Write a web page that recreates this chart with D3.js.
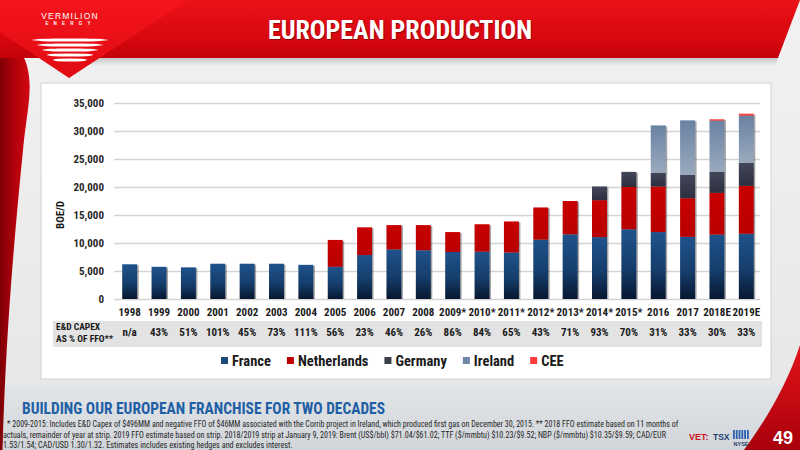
<!DOCTYPE html>
<html>
<head>
<meta charset="utf-8">
<script src="https://cdn.jsdelivr.net/npm/d3@7"></script>
<style>
  html, body { margin: 0; padding: 0; background: #ececec; }
  svg { display: block; }
  text { font-family: "Liberation Sans Narrow", "Arial Narrow", "Roboto Condensed", "Liberation Sans", sans-serif; }
</style>
</head>
<body>
<div id="europeanProduction"></div>
<script>
// values (BOE/D)
const years = ["1998", "1999", "2000", "2001", "2002", "2003", "2004", "2005", "2006", "2007", "2008",
  "2009*", "2010*", "2011*", "2012*", "2013*", "2014*", "2015*", "2016", "2017", "2018E", "2019E"];
const france = [6200, 5750, 5650, 6300, 6300, 6300, 6100, 5750, 7850, 8850, 8700,
  8400, 8450, 8300, 10600, 11550, 11050, 12450, 11950, 11100, 11500, 11650];
const netherlands = [0, 0, 0, 0, 0, 0, 0, 4800, 4950, 4350, 4500,
  3550, 4900, 5550, 5750, 5950, 6600, 7550, 8150, 6900, 7450, 8550];
const germany = [0, 0, 0, 0, 0, 0, 0, 0, 0, 0, 0,
  0, 0, 0, 0, 0, 2450, 2700, 2450, 4150, 3750, 4100];
const ireland = [0, 0, 0, 0, 0, 0, 0, 0, 0, 0, 0,
  0, 0, 0, 0, 0, 0, 0, 8450, 9750, 9150, 8450];
const cee = [0, 0, 0, 0, 0, 0, 0, 0, 0, 0, 0,
  0, 0, 0, 0, 0, 0, 0, 0, 0, 250, 350];
const capexPct = ["n/a", "43%", "51%", "101%", "45%", "73%", "111%", "56%", "23%", "46%", "26%",
  "86%", "84%", "65%", "43%", "71%", "93%", "70%", "31%", "33%", "30%", "33%"];
const seriesNames = ["France", "Netherlands", "Germany", "Ireland", "CEE"];
const yTicks = [0, 5000, 10000, 15000, 20000, 25000, 30000, 35000];

const footnotes = [
  "* 2009-2015: Includes E&D Capex of $496MM and negative FFO of $46MM associated with the Corrib project in Ireland, which produced first gas on December 30, 2015. ** 2018 FFO estimate based on 11 months of",
  "actuals, remainder of year at strip. 2019 FFO estimate based on strip. 2018/2019 strip at January 9, 2019: Brent (US$/bbl) $71.04/$61.02; TTF ($/mmbtu) $10.23/$9.52; NBP ($/mmbtu) $10.35/$9.59; CAD/EUR",
  "1.53/1.54; CAD/USD 1.30/1.32.  Estimates includes existing hedges and excludes interest."
];

class EuropeanProductionChart {
  constructor() {
    this.rows = years.map((y, i) => ({
      year: y, France: france[i], Netherlands: netherlands[i], Germany: germany[i],
      Ireland: ireland[i], CEE: cee[i], capex: capexPct[i]
    }));
  }

  gradient(defs, id, stops, x2 = 0, y2 = 1) {
    const g = defs.append("linearGradient").attr("id", id)
      .attr("x1", 0).attr("y1", 0).attr("x2", x2).attr("y2", y2);
    stops.forEach(s => g.append("stop").attr("offset", s[0]).attr("stop-color", s[1]));
  }

  drawSlide(svg, defs) {
    this.gradient(defs, "bg", [[0, "#f2f2f2"], [1, "#e6e6e6"]]);
    this.gradient(defs, "banner", [[0, "#ec1118"], [0.7, "#d6070f"], [1, "#c2020a"]]);
    this.gradient(defs, "tri", [[0, "#f4141c"], [1, "#e10b12"]]);
    this.gradient(defs, "stripe", [[0, "#7e0006"], [0.5, "#b3000a"], [1, "#d20a12"]], 1, 0);
    this.gradient(defs, "footer", [[0, "#e2e5e8"], [1, "#d1d5d9"]]);
    this.gradient(defs, "swoosh", [[0, "#e3141b"], [1, "#a8000a"]]);
    this.gradient(defs, "shade", [[0, "rgba(0,0,0,0.18)"], [1, "rgba(0,0,0,0)"]]);

    svg.append("rect").attr("width", 800).attr("height", 450).attr("fill", "url(#bg)");
    svg.append("rect").attr("y", 385).attr("width", 800).attr("height", 65).attr("fill", "url(#footer)");

    // left red stripe
    svg.append("path")
      .attr("d", "M0,30 C40,60 30,90 24,140 C14,240 6,330 2.5,450 L0,450 Z")
      .attr("fill", "url(#stripe)");

    // banner + shadow
    svg.append("path").attr("d", "M60,58 H778 L775,66 H60 Z").attr("fill", "url(#shade)");
    svg.append("path").attr("d", "M0,0 H800 L778,58 H0 Z").attr("fill", "url(#banner)");
    // logo triangle
    svg.append("path").attr("d", "M0,0 H188 L69,78 L0,32 Z").attr("fill", "url(#tri)");

    svg.append("text").attr("x", 70).attr("y", 18.5).attr("text-anchor", "middle")
      .attr("fill", "#fff").attr("font-size", 8.5).attr("letter-spacing", 1.2)
      .style("font-family", "'Liberation Sans', sans-serif").text("VERMILION");
    svg.append("text").attr("x", 70.5).attr("y", 24.5).attr("text-anchor", "middle")
      .attr("fill", "#fff").attr("font-size", 4.5).attr("letter-spacing", 5.2)
      .style("font-family", "'Liberation Sans', sans-serif").attr("font-weight", "bold").text("ENERGY");
    [76, 66, 56, 46, 34].forEach((w, i) => {
      svg.append("ellipse").attr("cx", 70).attr("cy", 40 + i * 5)
        .attr("rx", w / 2).attr("ry", 1.6).attr("fill", "#fff");
    });

    svg.append("text").attr("x", 400).attr("y", 39).attr("text-anchor", "middle")
      .attr("fill", "#fff").attr("font-size", 26).attr("font-weight", "bold")
      .style("text-shadow", "1px 1px 1px rgba(0,0,0,0.35)")
      .text("EUROPEAN PRODUCTION");

    // white chart panel
    svg.append("rect").attr("x", 41).attr("y", 83).attr("width", 730).attr("height", 296)
      .attr("fill", "#fff").attr("stroke", "#d2d2d2");

    // footer
    svg.append("text").attr("x", 22).attr("y", 414).attr("fill", "#1f5fa5")
      .attr("font-size", 16).attr("font-weight", "bold")
      .attr("textLength", 363).attr("lengthAdjust", "spacingAndGlyphs")
      .text("BUILDING OUR EUROPEAN FRANCHISE FOR TWO DECADES");
    const fnX = [7, 3, 3], fnLen = [672, 664, 290], fnY = [427, 437.5, 447.5];
    footnotes.forEach((t, i) => {
      const line = svg.append("text").attr("fill", "#262626").attr("font-size", 9.5).text(t);
      // squeeze horizontally to the width of the line in the reference
      const natural = line.node().getComputedTextLength();
      line.attr("transform", `translate(${fnX[i]},${fnY[i]}) scale(${fnLen[i] / natural},1)`);
    });

    // bottom right swoosh, page number, exchange logos
    svg.append("path").attr("d", "M744,450 C766,420 787,385 800,345 L800,450 Z").attr("fill", "url(#swoosh)");
    svg.append("text").attr("x", 783).attr("y", 444).attr("text-anchor", "middle")
      .attr("fill", "#fff").attr("font-size", 18).attr("font-weight", "bold")
      .style("font-family", "'Liberation Sans', sans-serif").text("49");
    svg.append("text").attr("x", 689).attr("y", 440).attr("fill", "#d0101a")
      .attr("font-size", 9).attr("font-weight", "bold").style("font-family", "'Liberation Sans', sans-serif").text("VET:");
    svg.append("text").attr("x", 713).attr("y", 440).attr("fill", "#1d3f6e")
      .attr("font-size", 8.5).attr("font-weight", "bold").style("font-family", "'Liberation Sans', sans-serif").text("TSX");
    d3.range(6).forEach(i => {
      svg.append("rect").attr("x", 733 + i * 2.8).attr("y", 430).attr("width", 1.8).attr("height", 9).attr("fill", "#2d62b0");
    });
    svg.append("text").attr("x", 741).attr("y", 446).attr("text-anchor", "middle").attr("fill", "#1d3f6e")
      .attr("font-size", 5.5).attr("font-weight", "bold").style("font-family", "'Liberation Sans', sans-serif").text("NYSE");
  }

  createVisualization() {
    const svg = d3.select("#europeanProduction")
      .append("svg")
      .attr("width", 800)
      .attr("height", 450);
    const defs = svg.append("defs");

    this.drawSlide(svg, defs);

    const fill = {
      France: "url(#gFrance)", Netherlands: "url(#gNeth)", Germany: "url(#gGer)",
      Ireland: "url(#gIre)", CEE: "url(#gCee)"
    };
    const swatch = { France: "#1f497d", Netherlands: "#c00000", Germany: "#3b3f4b", Ireland: "#6f87a6", CEE: "#ff3b3b" };
    this.gradient(defs, "gFrance", [[0, "#1f528b"], [0.55, "#153e6c"], [1, "#071730"]]);
    this.gradient(defs, "gNeth", [[0, "#c80000"], [1, "#b80000"]]);
    this.gradient(defs, "gGer", [[0, "#43465a"], [1, "#2c2f3d"]]);
    this.gradient(defs, "gIre", [[0, "#6a82a3"], [1, "#9aa9bd"]]);
    this.gradient(defs, "gCee", [[0, "#ff5050"], [1, "#f03030"]]);

    const x = d3.scaleBand()
      .domain(years)
      .range([115, 761])
      .paddingInner(0.49)
      .paddingOuter(0.245);

    const y = d3.scaleLinear()
      .domain([0, 35000])
      .range([299, 103]);

    // gridlines + y axis labels
    const yAxis = svg.append("g")
      .attr("transform", "translate(114,0)")
      .call(d3.axisLeft(y).tickValues(yTicks).tickSize(-646).tickPadding(10).tickFormat(d3.format(",")));
    yAxis.select(".domain").remove();
    yAxis.selectAll(".tick line").attr("stroke", "#d4d4d4").attr("stroke-width", 1.6);
    yAxis.selectAll(".tick text").attr("fill", "#262626").attr("font-size", 11).attr("font-weight", "bold")
      .style("font-family", null);

    svg.append("text")
      .attr("transform", "translate(64,215) rotate(-90)")
      .attr("text-anchor", "middle")
      .attr("fill", "#1a1a1a")
      .attr("font-size", 11)
      .attr("font-weight", "bold")
      .text("BOE/D");

    const stack = d3.stack().keys(seriesNames)(this.rows);
    const totals = stack[stack.length - 1];

    // soft bar shadow
    svg.append("g").selectAll("rect")
      .data(totals)
      .enter().append("rect")
      .attr("x", d => x(d.data.year) + 1.5)
      .attr("y", d => y(d[1]) + 1)
      .attr("width", x.bandwidth())
      .attr("height", d => y(0) - y(d[1]) - 1)
      .attr("fill", "rgba(0,0,0,0.35)");

    svg.append("g").selectAll("g")
      .data(stack)
      .enter().append("g")
      .attr("fill", s => fill[s.key])
      .selectAll("rect")
      .data(s => s.filter(d => d[1] > d[0]))
      .enter().append("rect")
      .attr("x", d => x(d.data.year))
      .attr("y", d => y(d[1]))
      .attr("width", x.bandwidth())
      .attr("height", d => y(d[0]) - y(d[1]));

    // x axis labels
    const xAxis = svg.append("g")
      .attr("transform", "translate(0,299)")
      .call(d3.axisBottom(x).tickSize(0).tickPadding(9));
    xAxis.select(".domain").remove();
    xAxis.selectAll(".tick text").attr("fill", "#1a1a1a").attr("font-size", 11).attr("font-weight", "bold")
      .style("font-family", null);

    // capex row
    svg.append("rect").attr("x", 53).attr("y", 321).attr("width", 709).attr("height", 26).attr("fill", "#e3e3e3");
    svg.append("text").attr("x", 56).attr("y", 330).attr("fill", "#1a1a1a")
      .attr("font-size", 9.5).attr("font-weight", "bold").text("E&D CAPEX");
    svg.append("text").attr("x", 56).attr("y", 342).attr("fill", "#1a1a1a")
      .attr("font-size", 9.5).attr("font-weight", "bold").text("AS % OF FFO**");
    svg.append("g").selectAll("text")
      .data(this.rows)
      .enter().append("text")
      .attr("x", d => x(d.year) + x.bandwidth() / 2)
      .attr("y", 336)
      .attr("text-anchor", "middle")
      .attr("fill", "#1a1a1a")
      .attr("font-size", 11)
      .attr("font-weight", "bold")
      .text(d => d.capex);

    // legend
    const legend = svg.append("g").attr("transform", "translate(221,361)");
    let lx = 0;
    seriesNames.forEach(name => {
      legend.append("rect").attr("x", lx).attr("y", -4).attr("width", 7).attr("height", 7).attr("fill", swatch[name]);
      const t = legend.append("text").attr("x", lx + 11).attr("y", 5)
        .attr("fill", "#1a1a1a").attr("font-size", 14.5).attr("font-weight", "bold").text(name);
      lx += 11 + t.node().getComputedTextLength() + 16;
    });
  }
}

const chart = new EuropeanProductionChart();
chart.createVisualization();
</script>
</body>
</html>
